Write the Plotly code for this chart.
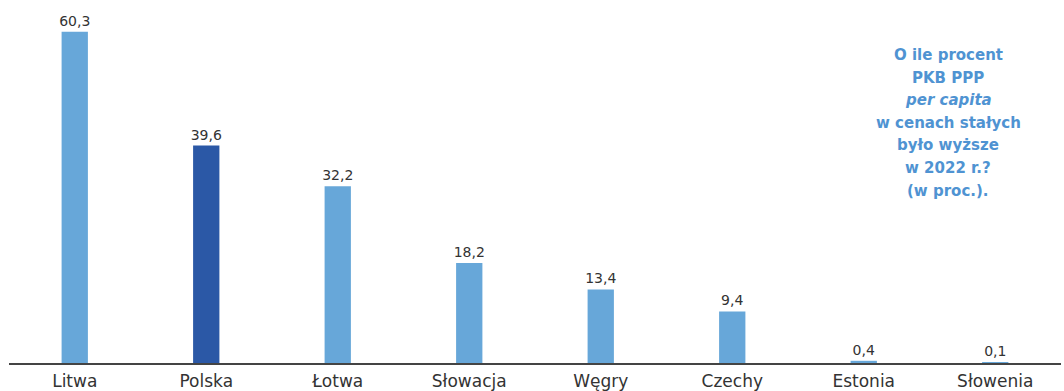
import plotly.graph_objects as go

countries = ["Litwa", "Polska", "Łotwa", "Słowacja", "Węgry", "Czechy", "Estonia", "Słowenia"]
values = [60.3, 39.6, 32.2, 18.2, 13.4, 9.4, 0.4, 0.1]
value_labels = ["60,3", "39,6", "32,2", "18,2", "13,4", "9,4", "0,4", "0,1"]
highlight = "Polska"

LIGHT = "#67a7d9"
DARK = "#2b58a6"
TXT = "#333333"
NOTE = "#4f93d2"
FONT = "DejaVu Sans"

colors = [DARK if c == highlight else LIGHT for c in countries]

fig = go.Figure(go.Bar(
    x=countries, y=values, marker_color=colors, marker_line_width=0,
    text=value_labels, textposition="outside", cliponaxis=False,
    constraintext="none",
    textfont=dict(family=FONT, size=14, color=TXT),
    hoverinfo="skip",
))

note_lines = ["<b>O ile procent</b>", "<b>PKB PPP</b>", "<b><i>per capita</i></b>",
              "<b>w cenach stałych</b>", "<b>było wyższe</b>", "<b>w 2022 r.?</b>",
              "<b>(w proc.).</b>"]

W, H = 1064, 391
ml, mr, mt, mb = 9, 3, 0, 28
pw, ph = W - ml - mr, H - mt - mb
for i, line in enumerate(note_lines):
    px, py = 948, 55 + i * 22.6
    fig.add_annotation(
        x=(px - ml) / pw, y=1 - (py - mt) / ph, xref="paper", yref="paper",
        text=line, showarrow=False,
        font=dict(family=FONT, size=15, color=NOTE), xanchor="center", yanchor="middle",
    )

fig.update_layout(
    width=W, height=H, margin=dict(l=ml, r=mr, t=mt, b=mb),
    paper_bgcolor="white", plot_bgcolor="white",
    bargap=0.8, showlegend=False,
    font=dict(family=FONT, color=TXT),
    xaxis=dict(showline=True, linecolor="#444444", linewidth=1.5, ticks="",
               ticklabelstandoff=2,
               tickfont=dict(family=FONT, size=17, color=TXT), showgrid=False, fixedrange=True),
    yaxis=dict(range=[0, 66.1], visible=False, showgrid=False, zeroline=False, fixedrange=True),
)

fig.write_html("out.html", config={"displayModeBar": False})
